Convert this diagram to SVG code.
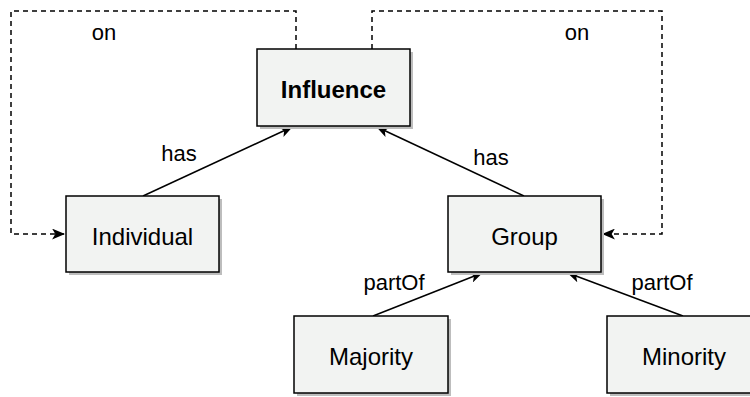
<svg xmlns="http://www.w3.org/2000/svg" width="750" height="397" viewBox="0 0 750 397">
<defs>
<style>
.box{fill:#f2f3f2;stroke:#000;stroke-width:1.5}
.shadow{fill:#bdbdbd}
.nt{font-family:"Liberation Sans",Arial,Helvetica,sans-serif;font-size:24px;fill:#000;text-anchor:middle}
.lt{font-family:"Liberation Sans",Arial,Helvetica,sans-serif;font-size:22px;fill:#000;text-anchor:middle}
.edge{fill:none;stroke:#000;stroke-width:1.5}
.dash{stroke-dasharray:5 4}
</style>
<marker id="arr" viewBox="0 0 12 10" refX="11" refY="5" markerWidth="13" markerHeight="11" markerUnits="userSpaceOnUse" orient="auto">
<path d="M0,0 L12,5 L0,10 L3,5 Z" fill="#000"/>
</marker>
</defs>
<rect width="750" height="397" fill="#fff"/>
<g id="connectors">
<path class="edge dash" d="M296,49 V11 H11 V234 H64" marker-end="url(#arr)"/>
<path class="edge dash" d="M372,49 V11 H662 V234 H603" marker-end="url(#arr)"/>
<path class="edge" d="M143,196 L292,127" marker-end="url(#arr)"/>
<path class="edge" d="M524,196 L377,127" marker-end="url(#arr)"/>
<path class="edge" d="M373,316 L482,273" marker-end="url(#arr)"/>
<path class="edge" d="M683,316 L568,273" marker-end="url(#arr)"/>
<text class="lt" x="104" y="40">on</text>
<text class="lt" x="577" y="40">on</text>
<text class="lt" x="179" y="161">has</text>
<text class="lt" x="491" y="165">has</text>
<text class="lt" x="394" y="290">partOf</text>
<text class="lt" x="662" y="290">partOf</text>
</g>
<g id="influence">
<rect class="shadow" x="260" y="52" width="153" height="77"/>
<rect class="box" x="257" y="49" width="153" height="77"/>
<text class="nt" x="333.5" y="98" font-weight="bold">Influence</text>
</g>
<g id="individual">
<rect class="shadow" x="69" y="199" width="153" height="76"/>
<rect class="box" x="66" y="196" width="153" height="76"/>
<text class="nt" x="142.5" y="245">Individual</text>
</g>
<g id="group">
<rect class="shadow" x="451" y="199" width="153" height="76"/>
<rect class="box" x="448" y="196" width="153" height="76"/>
<text class="nt" x="524.5" y="245">Group</text>
</g>
<g id="majority">
<rect class="shadow" x="297" y="319" width="154" height="77"/>
<rect class="box" x="294" y="316" width="154" height="77"/>
<text class="nt" x="371" y="365">Majority</text>
</g>
<g id="minority">
<rect class="shadow" x="610" y="319" width="154" height="77"/>
<rect class="box" x="607" y="316" width="154" height="77"/>
<text class="nt" x="684" y="365">Minority</text>
</g>
</svg>
